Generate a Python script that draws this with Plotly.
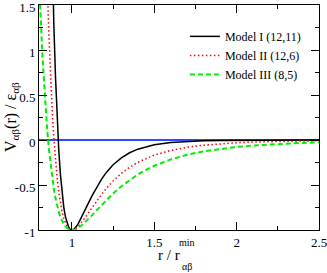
import plotly.graph_objects as go

# r / r_min sample positions and reduced potentials
x_m1 = [0.87, 0.88, 0.89, 0.90, 0.91, 0.92, 0.93, 0.94, 0.95, 0.96, 0.97, 0.98, 0.99, 1.00,
        1.01, 1.02, 1.03, 1.04, 1.06, 1.08, 1.10, 1.12, 1.15, 1.18, 1.21, 1.25, 1.30, 1.35,
        1.40, 1.45, 1.50, 1.60, 1.70, 1.80, 1.90, 2.00, 2.20, 2.50]
y_m1 = [2.978, 2.040, 1.296, 0.708, 0.248, -0.109, -0.382, -0.588, -0.740, -0.849, -0.922,
        -0.968, -0.993, -1.000, -0.994, -0.978, -0.954, -0.924, -0.855, -0.778, -0.701,
        -0.626, -0.523, -0.434, -0.357, -0.275, -0.198, -0.142, -0.102, -0.074, -0.054,
        -0.029, -0.016, -0.009, -0.005, -0.003, -0.001, -0.0003]

x_m2 = [0.82, 0.84, 0.85, 0.86, 0.87, 0.88, 0.89, 0.90, 0.91, 0.92, 0.93, 0.94, 0.95, 0.96,
        0.97, 0.98, 0.99, 1.00, 1.01, 1.02, 1.03, 1.04, 1.06, 1.08, 1.10, 1.12, 1.15, 1.18,
        1.21, 1.25, 1.30, 1.35, 1.40, 1.45, 1.50, 1.60, 1.70, 1.80, 1.90, 2.00, 2.10, 2.20,
        2.30, 2.40, 2.50]
y_m2 = [4.242, 2.410, 1.727, 1.166, 0.706, 0.330, 0.024, -0.223, -0.421, -0.579, -0.702,
        -0.798, -0.870, -0.923, -0.960, -0.983, -0.996, -1.000, -0.997, -0.988, -0.974,
        -0.956, -0.913, -0.863, -0.810, -0.757, -0.678, -0.604, -0.536, -0.456, -0.371,
        -0.303, -0.248, -0.204, -0.168, -0.116, -0.081, -0.058, -0.042, -0.031, -0.023,
        -0.018, -0.013, -0.010, -0.008]

x_m3 = [0.78, 0.79, 0.80, 0.82, 0.84, 0.85, 0.86, 0.87, 0.88, 0.89, 0.90, 0.91, 0.92, 0.93,
        0.94, 0.95, 0.96, 0.97, 0.98, 0.99, 1.00, 1.01, 1.02, 1.03, 1.04, 1.06, 1.08, 1.10,
        1.12, 1.15, 1.18, 1.21, 1.25, 1.30, 1.35, 1.40, 1.45, 1.50, 1.60, 1.70, 1.80, 1.90,
        2.00, 2.10, 2.20, 2.30, 2.40, 2.50]
y_m3 = [2.928, 2.320, 1.796, 0.961, 0.347, 0.106, -0.099, -0.272, -0.419, -0.542, -0.644,
        -0.729, -0.799, -0.855, -0.899, -0.934, -0.960, -0.979, -0.991, -0.998, -1.000,
        -0.998, -0.993, -0.985, -0.974, -0.947, -0.914, -0.878, -0.840, -0.781, -0.722,
        -0.665, -0.594, -0.514, -0.444, -0.383, -0.331, -0.286, -0.216, -0.164, -0.126,
        -0.098, -0.077, -0.061, -0.049, -0.039, -0.032, -0.026]

names = ["Model I (12,11)", "Model II (12,6)", "Model III (8,5)"]

x_tickvals = [1, 1.5, 2, 2.5]
x_ticktext = ["1", "1.5", "2", "2.5"]
y_tickvals = [-1, -0.5, 0, 0.5, 1, 1.5]
y_ticktext = ["-1", "-0.5", "0", "0.5", "1", "1.5"]

FONT = "Liberation Serif, DejaVu Serif, Times New Roman, serif"

fig = go.Figure()
fig.add_trace(go.Scatter(x=x_m1, y=y_m1, mode="lines", name=names[0],
                         line=dict(color="black", width=1.5)))
fig.add_trace(go.Scatter(x=x_m2, y=y_m2, mode="lines", name=names[1],
                         line=dict(color="#ff0000", width=1.5, dash="1.5px,2.5px")))
fig.add_trace(go.Scatter(x=x_m3, y=y_m3, mode="lines", name=names[2],
                         line=dict(color="#00ee00", width=2, dash="5px,3px")))

axis_common = dict(
    showline=True, linecolor="black", linewidth=1, mirror="allticks",
    ticks="inside", ticklen=8, tickwidth=1, tickcolor="black",
    showgrid=False, automargin=False, ticklabeloverflow="allow",
    tickfont=dict(family=FONT, size=13, color="black"),
)

fig.update_xaxes(range=[0.8, 2.5], tickvals=x_tickvals, ticktext=x_ticktext,
                 minor=dict(tickvals=[1.25, 1.75, 2.25], ticks="inside", ticklen=4,
                            tickcolor="black", tickwidth=1),
                 zeroline=False, **axis_common)
fig.update_yaxes(range=[-1, 1.5], tickvals=y_tickvals, ticktext=y_ticktext,
                 minor=dict(tickvals=[-0.75, -0.25, 0.25, 0.75, 1.25], ticks="inside",
                            ticklen=4, tickcolor="black", tickwidth=1),
                 zeroline=True, zerolinecolor="#2a4bff", zerolinewidth=1.5,
                 ticklabelshift=2,
                 **axis_common)

fig.update_layout(
    width=327, height=273,
    margin=dict(l=39, r=8, t=5, b=43),
    plot_bgcolor="white", paper_bgcolor="white",
    font=dict(family=FONT, size=13, color="black"),
    showlegend=True,
    legend=dict(x=0.521, y=0.925, xanchor="left", yanchor="top",
                bgcolor="rgba(0,0,0,0)", font=dict(family=FONT, size=12, color="black"),
                tracegroupgap=0),
    annotations=[
        dict(text="V<sub>αβ</sub>(r) / ε<sub>αβ</sub>", xref="paper", yref="paper",
             x=-0.098, y=0.5, xanchor="center", yanchor="middle", textangle=-90,
             showarrow=False, font=dict(family=FONT, size=16, color="black")),
        dict(text="r / r", xref="paper", yref="paper", x=0.464, y=-0.111,
             xanchor="center", yanchor="middle",
             showarrow=False, font=dict(family=FONT, size=15, color="black")),
        dict(text="min", xref="paper", yref="paper", x=0.527, y=-0.056,
             xanchor="center", yanchor="middle",
             showarrow=False, font=dict(family=FONT, size=10, color="black")),
        dict(text="αβ", xref="paper", yref="paper", x=0.529, y=-0.16,
             xanchor="center", yanchor="middle",
             showarrow=False, font=dict(family=FONT, size=10, color="black")),
    ],
)

fig.write_html("out.html", config={"displayModeBar": False},
               post_script="document.body.style.margin='0';document.body.style.padding='0';")
